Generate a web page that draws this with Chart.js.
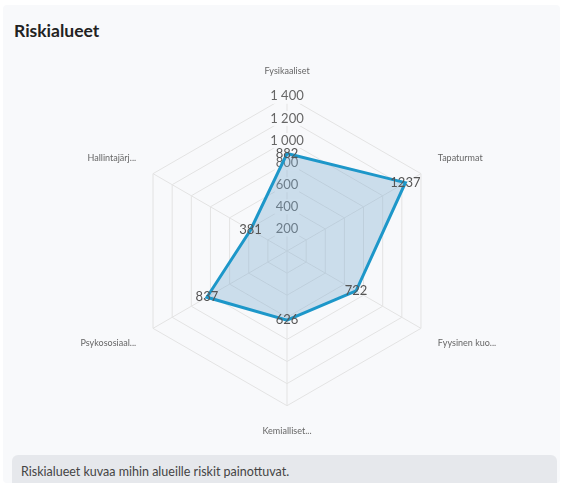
<!DOCTYPE html>
<html><head><meta charset="utf-8">
<script src="https://cdn.jsdelivr.net/npm/chart.js@4/dist/chart.umd.min.js"></script>
<style>
html,body{margin:0;padding:0;background:#fff;width:563px;height:483px;overflow:hidden;font-family:Lato,"Open Sans",sans-serif;}
#card{position:absolute;left:3px;top:5px;width:557px;height:478px;background:#f8f9fb;border-radius:4px;}
#title{position:absolute;left:11px;top:15px;font-size:17.5px;font-weight:700;color:#222;}
#wrap{position:absolute;left:9px;top:45px;width:550px;height:405px;}
#foot{position:absolute;left:9px;top:450px;width:545px;height:33px;background:#e6e8ec;border-radius:6px 6px 0 0;}
#foot span{position:absolute;left:9px;top:9px;font-size:12.5px;color:#444;}
</style></head><body>
<div id="card">
<div id="title">Riskialueet</div>
<div id="wrap"><canvas id="c"></canvas></div>
<div id="foot"><span>Riskialueet kuvaa mihin alueille riskit painottuvat.</span></div>
</div>
<script>
const categories = ["Fysikaaliset", "Tapaturmat", "Fyysinen kuo...", "Kemialliset...", "Psykososiaal...", "Hallintajärj..."];
const values = [882, 1237, 722, 626, 837, 381];
const tickMax = 1400;
const tickStep = 200;

const valueLabels = {
  id: 'valueLabels',
  afterDatasetsDraw(chart) {
    const ctx = chart.ctx;
    const meta = chart.getDatasetMeta(0);
    ctx.save();
    ctx.font = '13px Lato, sans-serif';
    ctx.fillStyle = '#555';
    ctx.textAlign = 'center';
    ctx.textBaseline = 'middle';
    meta.data.forEach((pt, i) => {
      ctx.fillText(String(values[i]), pt.x, pt.y);
    });
    ctx.restore();
  }
};

new Chart(document.getElementById('c'), {
  type: 'radar',
  data: {
    labels: categories,
    datasets: [{
      data: values,
      borderColor: '#1d97c9',
      backgroundColor: 'rgba(120,170,205,0.35)',
      borderWidth: 3,
      pointRadius: 0,
      fill: true
    }]
  },
  options: {
    locale: 'fi-FI',
    responsive: true,
    maintainAspectRatio: false,
    animation: false,
    layout: { padding: { top: 17, bottom: 18 } },
    plugins: { legend: { display: false }, tooltip: { enabled: false } },
    scales: {
      r: {
        min: 0,
        max: tickMax,
        ticks: {
          stepSize: tickStep,
          color: '#666',
          font: { size: 13, family: 'Lato' },
          backdropColor: '#f8f9fb',
          backdropPadding: 1
        },
        grid: { color: '#e3e3e3' },
        angleLines: { color: '#e3e3e3' },
        pointLabels: { color: '#666', font: { size: 9, family: 'Lato' }, padding: 12 }
      }
    }
  },
  plugins: [valueLabels]
});
</script>
</body></html>
